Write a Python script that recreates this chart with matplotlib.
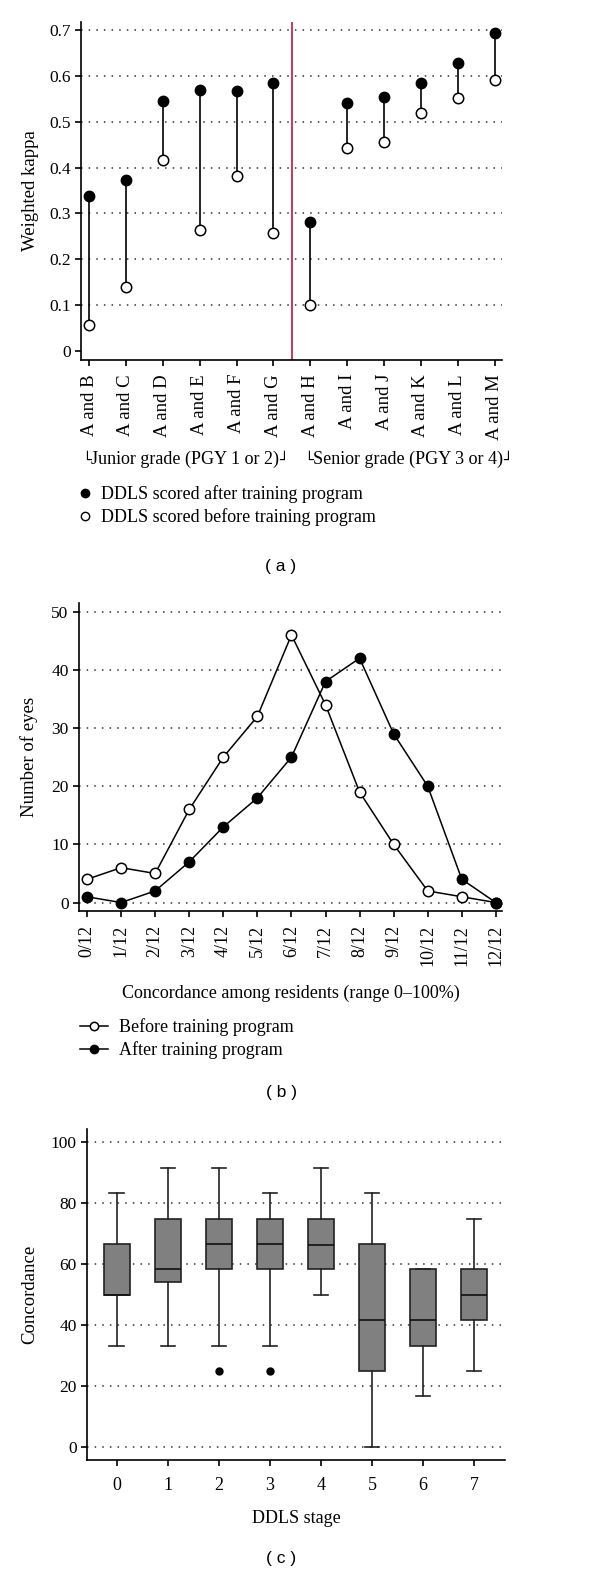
import matplotlib.pyplot as plt
from matplotlib.lines import Line2D
import numpy as np

plt.rcParams['font.family'] = ['Liberation Serif', 'DejaVu Sans']
plt.rcParams['font.size'] = 12.5
plt.rcParams['axes.linewidth'] = 1.2

# (a) weighted kappa per resident pair
pairs = ['A and B', 'A and C', 'A and D', 'A and E', 'A and F', 'A and G',
         'A and H', 'A and I', 'A and J', 'A and K', 'A and L', 'A and M']
kappa_after = [0.338, 0.374, 0.545, 0.570, 0.568, 0.584,
               0.282, 0.542, 0.555, 0.584, 0.629, 0.693]
kappa_before = [0.057, 0.140, 0.416, 0.263, 0.382, 0.257,
                0.100, 0.443, 0.456, 0.519, 0.551, 0.592]

# (b) concordance counts
conc_labels = ['%d/12' % i for i in range(13)]
eyes_before = [4, 6, 5, 16, 25, 32, 46, 34, 19, 10, 2, 1, 0]
eyes_after = [1, 0, 2, 7, 13, 18, 25, 38, 42, 29, 20, 4, 0]

# (c) concordance by DDLS stage (box stats)
stages = ['0', '1', '2', '3', '4', '5', '6', '7']
whislo = [33.3, 33.3, 33.3, 33.3, 50.0, 0.0, 16.7, 25.0]
q1 = [50.0, 54.0, 58.3, 58.3, 58.3, 25.0, 33.3, 41.7]
med = [50.0, 58.3, 66.7, 66.7, 66.4, 41.7, 41.7, 50.0]
q3 = [66.7, 75.0, 75.0, 75.0, 75.0, 66.7, 58.3, 58.3]
whishi = [83.3, 91.7, 91.7, 83.3, 91.7, 83.3, 58.3, 75.0]
fliers = [[], [], [25.0], [25.0], [], [], [], []]

W, H = 600, 1574
fig = plt.figure(figsize=(W / 100, H / 100), dpi=100)


def px_axes(l, t, r, b):
    return fig.add_axes([l / W, 1 - b / H, (r - l) / W, (b - t) / H])


def style(ax):
    for s in ['top', 'right']:
        ax.spines[s].set_visible(False)
    ax.tick_params(direction='out', length=4, width=1.2, pad=3.5)
    ax.tick_params(axis='x', pad=6)
    ax.yaxis.grid(True, linestyle=(0, (1, 4)), color='#333333', lw=1.1)
    ax.set_axisbelow(True)


def ftext(x, y, s, **kw):
    return fig.text(x / W, 1 - y / H, s, **kw)


def bracket_label(ax, x0, y, s):
    # group name with small corner marks on both sides
    t = ftext(x0 + 7, y, s, fontsize=13, va='center', ha='left')
    for xy, ch, ha in [((0, 0.42), '\u2514', 'right'), ((1, 0.42), '\u2518', 'left')]:
        ax.annotate(ch, xy=xy, xycoords=t, fontsize=10.5, va='center', ha=ha,
                    family='DejaVu Sans', annotation_clip=False)


# ---------- (a)
ax = px_axes(81, 22, 502, 360)
style(ax)
x = np.arange(len(pairs))
ax.vlines(x, kappa_before, kappa_after, color='black', lw=1.2, zorder=2)
ax.plot(x, kappa_after, 'o', ms=7.5, mfc='black', mec='black', zorder=3)
ax.plot(x, kappa_before, 'o', ms=7.5, mfc='white', mec='black', mew=1.1, zorder=3)
ax.axvline(5.5, color='#c0143c', lw=1.2)
ax.set_xlim(-0.22, 11.2)
ax.set_ylim(-0.02, 0.718)
ax.set_yticks(np.arange(0, 0.71, 0.1), ['0', '0.1', '0.2', '0.3', '0.4', '0.5', '0.6', '0.7'])
ax.get_ygridlines()[0].set_visible(False)
ax.set_xticks(x, pairs, rotation=90, fontsize=13.5)
ax.set_ylabel('Weighted kappa', fontsize=13.5)
ax.yaxis.set_label_coords(-0.100, 0.5)

bracket_label(ax, 84, 459, 'Junior grade (PGY 1 or 2)')
bracket_label(ax, 306, 459, 'Senior grade (PGY 3 or 4)')

h_a = [Line2D([], [], ls='none', marker='o', ms=6, mfc='black', mec='black'),
       Line2D([], [], ls='none', marker='o', ms=6, mfc='white', mec='black')]
fig.legend(h_a, ['DDLS scored after training program', 'DDLS scored before training program'],
           loc='upper left', bbox_to_anchor=(78 / W, 1 - 485 / H), frameon=False,
           fontsize=13, handlelength=0.8, handletextpad=0.45, labelspacing=0.3,
           borderpad=0, borderaxespad=0)

ftext(281, 567, '( a )', fontsize=12.5, family='Liberation Sans', ha='center', va='center')

# ---------- (b)
ax = px_axes(79, 603, 502, 911)
style(ax)
x = np.arange(len(conc_labels))
ax.plot(x, eyes_before, '-o', color='black', lw=1.1, ms=7.5, mfc='white', mec='black',
        mew=1.1, label='Before training program', zorder=3)
ax.plot(x, eyes_after, '-o', color='black', lw=1.1, ms=7.5, mfc='black', mec='black',
        label='After training program', zorder=3)
ax.set_xlim(-0.235, 12.18)
ax.set_ylim(-1.45, 51.5)
ax.set_yticks([0, 10, 20, 30, 40, 50])
ax.set_xticks(x, conc_labels, rotation=90, fontsize=13)
ax.set_ylabel('Number of eyes', fontsize=13.5)
ax.yaxis.set_label_coords(-0.097, 0.5)
ax.set_xlabel('Concordance among residents (range 0\u2013100%)', fontsize=13)
ax.xaxis.set_label_coords(0.5, -0.24)
fig.legend(*ax.get_legend_handles_labels(), loc='upper left',
           bbox_to_anchor=(80 / W, 1 - 1018 / H), frameon=False, fontsize=13,
           handlelength=1.55, handletextpad=0.6, labelspacing=0.3,
           borderpad=0, borderaxespad=0, markerscale=0.8)
ftext(281, 1093, '( b )', fontsize=12.5, family='Liberation Sans', ha='center', va='center')

# ---------- (c)
ax = px_axes(87, 1129, 505, 1460)
style(ax)
stats = [dict(label=s, whislo=a, q1=b, med=c, q3=d, whishi=e, fliers=f)
         for s, a, b, c, d, e, f in zip(stages, whislo, q1, med, q3, whishi, fliers)]
ax.bxp(stats, positions=np.arange(len(stages)), widths=0.51, patch_artist=True,
       capwidths=0.28,
       boxprops=dict(facecolor='#808080', edgecolor='#222222', lw=1.2),
       medianprops=dict(color='#111111', lw=1.2),
       whiskerprops=dict(color='#222222', lw=1.2),
       capprops=dict(color='#222222', lw=1.2),
       flierprops=dict(marker='o', ms=5, mfc='black', mec='black'))
ax.set_xlim(-0.58, 7.6)
ax.set_ylim(-4.3, 104.4)
ax.set_yticks([0, 20, 40, 60, 80, 100])
ax.tick_params(axis='x', pad=8, labelsize=13)
ax.set_ylabel('Concordance', fontsize=13.5)
ax.yaxis.set_label_coords(-0.117, 0.5)
ax.set_xlabel('DDLS stage', fontsize=13)
ax.xaxis.set_label_coords(0.5, -0.15)
ftext(281, 1558, '( c )', fontsize=12.5, family='Liberation Sans', ha='center', va='center')

fig.savefig('out.png', dpi=100)
